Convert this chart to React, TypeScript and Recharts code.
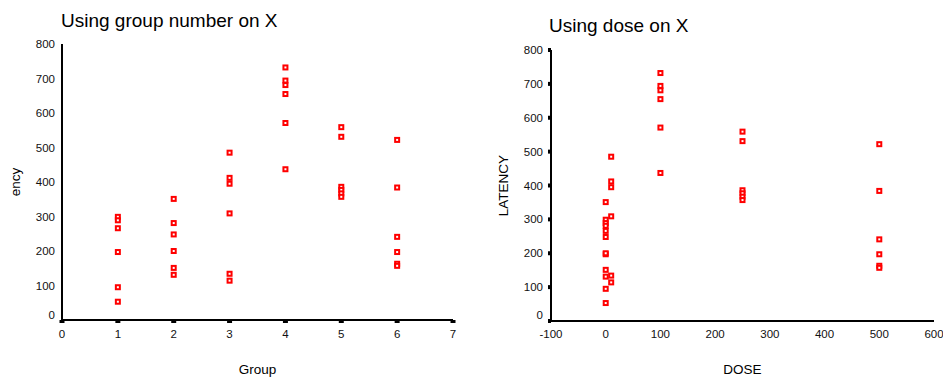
import {
  ScatterChart,
  Scatter,
  XAxis,
  YAxis,
} from 'recharts';

// latency readings per group (same animals on both plots)
const groupNumbers = [1, 2, 3, 4, 5, 6];
const groupDoses = [0, 0, 10, 100, 250, 500];
const latencyG1 = [299, 289, 266, 197, 95, 53];
const latencyG2 = [351, 281, 248, 200, 151, 131];
const latencyG3 = [485, 412, 395, 309, 134, 114];
const latencyG4 = [732, 694, 681, 655, 571, 437];
const latencyG5 = [559, 531, 386, 377, 367, 357];
const latencyG6 = [522, 384, 241, 197, 163, 157];
const latencyByGroup = [latencyG1, latencyG2, latencyG3, latencyG4, latencyG5, latencyG6];

const groupTicks = [0, 1, 2, 3, 4, 5, 6, 7];
const doseTicks = [-100, 0, 100, 200, 300, 400, 500, 600];
const latencyTicks = [0, 100, 200, 300, 400, 500, 600, 700, 800];

const groupData = groupNumbers.flatMap((g, i) =>
  latencyByGroup[i].map((v) => ({ group: g, latency: v }))
);
const doseData = groupDoses.flatMap((d, i) =>
  latencyByGroup[i].map((v) => ({ dose: d, latency: v }))
);

const FONT = '"Liberation Sans", Arial, sans-serif';
const frameLine = { stroke: '#000', strokeWidth: 2 };

const Marker = (props: any) => {
  const { cx, cy } = props;
  if (cx == null || cy == null) return null;
  return (
    <rect
      x={cx - 2}
      y={cy - 2}
      width={4}
      height={4}
      fill="#fff"
      stroke="#ff0000"
      strokeWidth={2}
    />
  );
};

const YTick = (props: any) => {
  const { x, y, payload, shift } = props;
  return (
    <text
      x={x}
      y={payload.value === 0 ? y - shift : y}
      dy="0.355em"
      textAnchor="end"
      fontSize={11.5}
      fontFamily={FONT}
      fill="#111"
    >
      {payload.value}
    </text>
  );
};

const titleStyle = (left: number, top: number): React.CSSProperties => ({
  position: 'absolute',
  left,
  top,
  fontSize: 19,
  lineHeight: 1,
  whiteSpace: 'nowrap',
  color: '#000',
});

export default function App() {
  return (
    <div
      style={{
        position: 'absolute',
        left: 0,
        top: 0,
        width: 943,
        height: 377,
        background: '#fff',
        fontFamily: FONT,
      }}
    >
      <div style={titleStyle(61, 11)}>Using group number on X</div>
      <div style={titleStyle(549, 16)}>Using dose on X</div>

      <div style={{ position: 'absolute', left: 0, top: 0 }}>
        <ScatterChart
          width={470}
          height={377}
          margin={{ top: 44, right: 17, bottom: 0, left: 0 }}
        >
          <XAxis
            type="number"
            dataKey="group"
            domain={[0, 7]}
            ticks={groupTicks}
            interval={0}
            height={57}
            axisLine={frameLine}
            tickLine={{ stroke: '#000', strokeWidth: 5 }}
            tickSize={3}
            tickMargin={7}
            tick={{ fill: '#111', fontSize: 11.5, fontFamily: FONT }}
            label={{ value: 'Group', position: 'insideBottom', offset: 3, fill: '#000', fontSize: 13.5, fontFamily: FONT }}
          />
          {/* top and right sides of the box */}
          <XAxis xAxisId="top" orientation="top" type="number" domain={[0, 7]} height={0} axisLine={frameLine} tick={false} tickLine={false} />
          <YAxis
            type="number"
            dataKey="latency"
            domain={[0, 800]}
            ticks={latencyTicks}
            interval={0}
            width={62}
            axisLine={frameLine}
            tickLine={false}
            tickSize={0}
            tickMargin={7}
            tick={(p: any) => <YTick {...p} shift={5} />}
            label={{ value: 'ency', angle: -90, position: 'insideLeft', offset: 15, fill: '#000', fontSize: 13.5, fontFamily: FONT, style: { textAnchor: 'middle' } }}
          />
          <YAxis yAxisId="right" orientation="right" type="number" domain={[0, 800]} width={0} axisLine={frameLine} tick={false} tickLine={false} />
          <Scatter data={groupData} shape={Marker} isAnimationActive={false} />
        </ScatterChart>
      </div>

      <div style={{ position: 'absolute', left: 470, top: 0 }}>
        <ScatterChart
          width={473}
          height={377}
          margin={{ top: 50, right: 9, bottom: 0, left: 0 }}
        >
          <XAxis
            type="number"
            dataKey="dose"
            domain={[-100, 600]}
            ticks={doseTicks}
            interval={0}
            height={56}
            axisLine={frameLine}
            tickLine={false}
            tickSize={0}
            tickMargin={9}
            tick={{ fill: '#111', fontSize: 11.5, fontFamily: FONT }}
            label={{ value: 'DOSE', position: 'insideBottom', offset: 3, fill: '#000', fontSize: 13.5, fontFamily: FONT }}
          />
          <XAxis xAxisId="top" orientation="top" type="number" domain={[-100, 600]} height={0} axisLine={frameLine} tick={false} tickLine={false} />
          <YAxis
            type="number"
            dataKey="latency"
            domain={[0, 800]}
            ticks={latencyTicks}
            interval={0}
            width={81}
            axisLine={frameLine}
            tickLine={{ stroke: '#000', strokeWidth: 4 }}
            tickSize={3}
            tickMargin={5}
            tick={(p: any) => <YTick {...p} shift={6} />}
            label={{ value: 'LATENCY', angle: -90, position: 'insideLeft', offset: 33.5, fill: '#000', fontSize: 13.5, fontFamily: FONT, style: { textAnchor: 'middle' } }}
          />
          <YAxis yAxisId="right" orientation="right" type="number" domain={[0, 800]} width={0} axisLine={frameLine} tick={false} tickLine={false} />
          <Scatter data={doseData} shape={Marker} isAnimationActive={false} />
        </ScatterChart>
      </div>
    </div>
  );
}
